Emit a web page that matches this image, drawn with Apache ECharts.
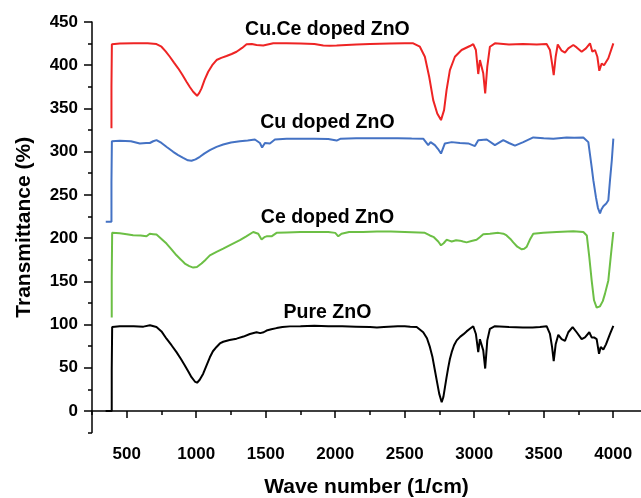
<!DOCTYPE html>
<html>
<head>
<meta charset="utf-8">
<script src="https://cdn.jsdelivr.net/npm/echarts@6/dist/echarts.min.js"></script>
<style>html,body{margin:0;padding:0;background:#fff}#c{width:641px;height:498px}</style>
</head>
<body>
<div id="c"></div>
<script>
const seriesNames = ['Pure ZnO', 'Ce doped ZnO', 'Cu doped ZnO', 'Cu.Ce doped ZnO'];
const xMajorTicks = [500, 1000, 1500, 2000, 2500, 3000, 3500, 4000];
const xMinorTicks = [250, 750, 1250, 1750, 2250, 2750, 3250, 3750];
const yMajorTicks = [0, 50, 100, 150, 200, 250, 300, 350, 400, 450];
const yMinorTicks = [-25, 25, 75, 125, 175, 225, 275, 325, 375, 425];

const pureZnO = [[348,0],[392,0],[392,48],[395,97],[450,98],[550,98],[620,97.5],[667,99],[714,97],[750,92],[786,83.5],[822,76],[858,68],[890,60],[918,52.6],[945,45],[966,39],[990,34],[1006,32.6],[1025,36],[1050,43],[1075,53],[1098,62],[1120,69],[1146,74],[1170,78],[1194,80],[1240,82],[1290,83.6],[1340,86],[1386,89],[1434,91],[1460,90],[1470,88.5],[1485,91],[1506,93],[1540,94.5],[1578,95.8],[1620,97],[1674,97.8],[1750,98],[1850,98.5],[1950,98],[2050,98],[2150,97.5],[2250,97],[2300,96.5],[2350,97],[2450,98],[2500,98],[2540,97.5],[2586,97],[2633,91],[2660,84],[2681,74],[2700,62],[2717,47],[2733,33],[2748,20],[2766,10],[2778,16],[2789,27],[2800,38],[2813,50],[2825,60],[2838,68],[2855,76],[2874,81.6],[2900,86],[2921,88.5],[2945,92],[2969,95],[2993,98],[3012,89],[3029,68],[3041,83],[3053,85],[3065,70],[3079,49],[3094,81.6],[3113,95],[3149,98],[3250,97],[3350,96.5],[3420,96.6],[3473,97],[3521,98],[3545,89],[3560,74],[3572,57.6],[3586,77],[3605,88],[3629,83],[3653,81],[3677,91],[3708,97],[3737,91],[3773,83],[3797,85],[3828,91],[3845,85],[3862,85],[3881,83],[3898,66],[3910,74],[3929,71],[3948,77],[3977,89],[4001,98.5]];

const ceDoped = [[392,108],[392,155],[395,206],[450,205.5],[500,204.5],[546,203.2],[600,203],[642,202],[666,205],[690,204.5],[714,204],[750,199],[786,193.6],[822,187],[858,180],[890,175],[918,170.5],[950,167.5],[978,165.8],[1005,166.5],[1038,170.5],[1068,175],[1098,180],[1146,184],[1194,187.8],[1250,192.5],[1314,197.5],[1360,202],[1410,207],[1446,205],[1470,198.3],[1490,201],[1506,202],[1542,202],[1578,206],[1650,206.5],[1750,207],[1850,207],[1950,207],[2000,206],[2022,202],[2045,205],[2100,207],[2200,207],[2300,207.5],[2400,207.5],[2500,207],[2600,206.5],[2645,206],[2681,203],[2710,201],[2741,196],[2761,191.6],[2780,194],[2801,198],[2820,197],[2838,196],[2870,197.5],[2897,197],[2920,196],[2945,195],[2980,196.5],[3017,198],[3040,201],[3065,204.4],[3113,205],[3173,206],[3210,205],[3233,203],[3260,199],[3281,195],[3310,190],[3342,187],[3360,187.5],[3378,190],[3400,198],[3425,205],[3497,206],[3593,207],[3713,208],[3785,207],[3810,203],[3828,178],[3845,151],[3862,128],[3881,119.5],[3905,121],[3925,127],[3941,135.7],[3965,151],[3982,178],[4001,207]];

const cuDoped = [[349,219],[390,219],[390,265],[393,312],[450,312.5],[530,312],[594,309.5],[640,310],[666,310],[690,312],[714,313.3],[750,310],[790,305],[834,299.8],[870,296],[906,292.8],[940,290],[966,289.4],[995,291],[1026,294],[1060,298],[1098,301.7],[1146,305.5],[1194,308.2],[1250,310.5],[1314,312],[1370,313],[1422,314],[1458,310],[1474,304.8],[1494,310],[1530,309.5],[1566,314],[1650,315],[1750,315],[1850,315],[1950,314.5],[2010,312.8],[2040,315],[2150,315.5],[2300,315.5],[2450,315.5],[2550,315.2],[2633,315],[2669,307.5],[2686,311],[2717,307.5],[2740,303],[2761,297.8],[2789,309.5],[2838,311],[2897,310],[2957,309.5],[3005,306.4],[3029,313.3],[3090,314],[3149,307.5],[3209,313.3],[3250,310],[3293,306.9],[3353,311],[3425,316.4],[3500,315.5],[3569,315],[3665,316.4],[3720,316],[3785,316.4],[3821,311],[3845,282.4],[3857,267],[3876,247],[3890,235],[3905,228.4],[3915,233],[3929,236.8],[3950,240],[3965,243.8],[3977,267],[3990,290],[4001,315]];

const cuCeDoped = [[390,327],[390,375],[393,424.2],[450,425],[550,425.3],[650,425.5],[714,424.5],[750,421.4],[780,416],[810,409.8],[840,403],[870,396.4],[900,389],[930,380.8],[955,374.5],[978,369.3],[1006,364.6],[1022,368],[1038,373.2],[1060,383],[1086,392.4],[1115,400],[1146,406],[1180,408.5],[1218,410.6],[1255,413],[1290,415.6],[1330,420],[1362,424.2],[1400,424.5],[1434,423.4],[1482,422.7],[1554,425.3],[1650,425.5],[1750,425],[1850,424.5],[1914,422.7],[1960,422.5],[2010,422.7],[2080,423.5],[2153,424],[2250,424.5],[2394,425],[2500,425.3],[2561,425.3],[2609,421.4],[2645,409.8],[2676,386.6],[2705,359.6],[2734,344.2],[2761,336.5],[2783,348],[2801,371.2],[2825,394.4],[2861,409.8],[2909,417.6],[2969,422.2],[2993,424.5],[3012,417.6],[3029,389.8],[3041,406],[3053,408],[3065,390.6],[3079,367.4],[3094,398.3],[3113,421.4],[3149,425.3],[3250,424],[3350,424.5],[3450,424],[3521,424.5],[3545,417.6],[3560,402.1],[3572,388.6],[3586,409.8],[3601,424],[3629,416.8],[3653,414.5],[3677,419.5],[3713,423.4],[3737,420.6],[3773,415.6],[3804,419.5],[3833,425.3],[3850,415.6],[3869,417.6],[3886,409.8],[3900,393.6],[3917,402],[3934,400],[3965,408],[4001,425.3]];

const FONT = "'Liberation Sans', Arial, sans-serif";
const chart = echarts.init(document.getElementById('c'), null, {renderer: 'canvas'});

function mk(name, data, color, labelY) {
  return {
    name: name, type: 'line', data: data, xAxisIndex: 0, yAxisIndex: 0,
    showSymbol: false, symbol: 'none', smooth: false,
    lineStyle: {color: color, width: 2},
    itemStyle: {color: color},
    markPoint: {
      silent: true, symbol: 'rect', symbolSize: 1,
      itemStyle: {color: 'rgba(0,0,0,0)'},
      label: {show: true, position: 'inside', formatter: name, color: '#000',
              fontFamily: FONT, fontWeight: 'bold', fontSize: 19.5},
      data: [{coord: [1944, labelY]}]
    }
  };
}

const plain = function (v) { return String(v); };
const axisCommonX = {
  type: 'value', min: 250, max: 4200, position: 'bottom', gridIndex: 0,
  splitLine: {show: false}
};
const axisCommonY = {
  type: 'value', min: -25, max: 450, position: 'left', gridIndex: 0,
  splitLine: {show: false}
};

chart.setOption({
  animation: false,
  backgroundColor: '#fff',
  grid: {left: 92, right: 0, top: 22, bottom: 65.5, containLabel: false, outerBoundsMode: 'none'},
  xAxis: [
    Object.assign({}, axisCommonX, {
      name: 'Wave number (1/cm)', nameLocation: 'middle', nameGap: 44,
      nameTextStyle: {color: '#000', fontFamily: FONT, fontWeight: 'bold', fontSize: 21},
      axisLine: {show: true, lineStyle: {color: '#000', width: 1.5}},
      axisTick: {show: true, inside: false, length: 7, customValues: xMajorTicks, lineStyle: {color: '#000', width: 1.5}},
      axisLabel: {show: true, customValues: xMajorTicks, formatter: plain, margin: 13, color: '#000', fontFamily: FONT, fontWeight: 'bold', fontSize: 17}
    }),
    Object.assign({}, axisCommonX, {
      axisLine: {show: false},
      axisTick: {show: true, inside: false, length: 4, customValues: xMinorTicks, lineStyle: {color: '#000', width: 1.5}},
      axisLabel: {show: false}
    })
  ],
  yAxis: [
    Object.assign({}, axisCommonY, {
      name: 'Transmittance (%)', nameLocation: 'middle', nameGap: 57,
      nameTextStyle: {color: '#000', fontFamily: FONT, fontWeight: 'bold', fontSize: 21},
      axisLine: {show: true, lineStyle: {color: '#000', width: 1.5}},
      axisTick: {show: true, inside: false, length: 8, customValues: yMajorTicks, lineStyle: {color: '#000', width: 1.5}},
      axisLabel: {show: true, customValues: yMajorTicks, formatter: plain, margin: 14, color: '#000', fontFamily: FONT, fontWeight: 'bold', fontSize: 17}
    }),
    Object.assign({}, axisCommonY, {
      axisLine: {show: false},
      axisTick: {show: true, inside: false, length: 4, customValues: yMinorTicks, lineStyle: {color: '#000', width: 1.5}},
      axisLabel: {show: false}
    })
  ],
  series: [
    mk(seriesNames[0], pureZnO, '#000000', 114),
    mk(seriesNames[1], ceDoped, '#6cbf45', 224),
    mk(seriesNames[2], cuDoped, '#4472c4', 333.6),
    mk(seriesNames[3], cuCeDoped, '#ee2424', 440.7)
  ]
});
</script>
</body>
</html>
